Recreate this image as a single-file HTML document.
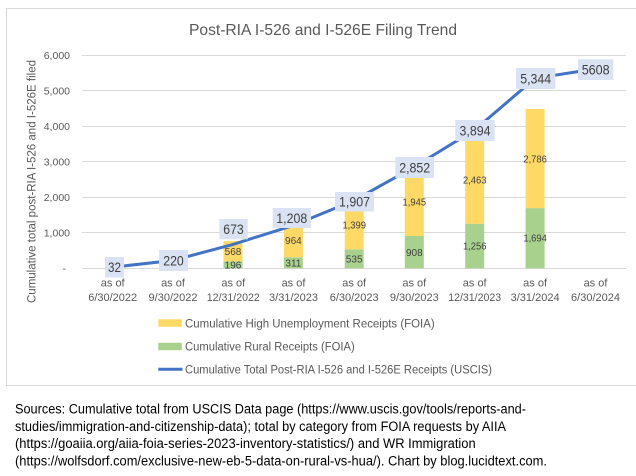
<!DOCTYPE html>
<html><head><meta charset="utf-8"><style>
html,body{margin:0;padding:0;background:#fff;}
svg{display:block;}
text{font-family:"Liberation Sans",Arial,sans-serif;}
</style></head><body>
<svg width="636" height="476" viewBox="0 0 636 476" xmlns="http://www.w3.org/2000/svg">
<rect x="0" y="0" width="636" height="476" fill="#fff"/>
<!-- chart border -->
<path d="M640 8.5 H6.5 V385.5 H640" fill="none" stroke="#d9d9d9" stroke-width="1"/>
<!-- title -->
<text x="323" y="35" font-size="16" fill="#595959" text-anchor="middle" textLength="268" lengthAdjust="spacingAndGlyphs">Post-RIA I-526 and I-526E Filing Trend</text>
<!-- gridlines -->
<g stroke="#d9d9d9" stroke-width="1">
<line x1="82" x2="626" y1="55.5" y2="55.5"/>
<line x1="82" x2="626" y1="90.5" y2="90.5"/>
<line x1="82" x2="626" y1="126.5" y2="126.5"/>
<line x1="82" x2="626" y1="161.5" y2="161.5"/>
<line x1="82" x2="626" y1="197.5" y2="197.5"/>
<line x1="82" x2="626" y1="232.5" y2="232.5"/>
<line x1="82" x2="626" y1="268.5" y2="268.5"/>
</g>
<!-- y tick labels -->
<g font-size="10.5" fill="#595959" text-anchor="end">
<text x="70" y="59">6,000</text>
<text x="70" y="94.5">5,000</text>
<text x="70" y="130">4,000</text>
<text x="70" y="165.5">3,000</text>
<text x="70" y="201">2,000</text>
<text x="70" y="236.5">1,000</text>
<text x="66" y="272">-</text>
</g>
<!-- y axis title -->
<text transform="translate(35.5,181.5) rotate(-90)" font-size="11.5" fill="#595959" text-anchor="middle" textLength="243" lengthAdjust="spacingAndGlyphs">Cumulative total post-RIA I-526 and I-526E filed</text>
<!-- bars -->
<g>
<rect x="223.5" y="261.3" width="19" height="7" fill="#A9D18E"/>
<rect x="223.5" y="241.1" width="19" height="20.2" fill="#FFD966"/>
<rect x="283.9" y="257.2" width="19" height="11.1" fill="#A9D18E"/>
<rect x="283.9" y="223" width="19" height="34.2" fill="#FFD966"/>
<rect x="344.7" y="249.3" width="19" height="19" fill="#A9D18E"/>
<rect x="344.7" y="199.6" width="19" height="49.7" fill="#FFD966"/>
<rect x="404.8" y="236" width="19" height="32.3" fill="#A9D18E"/>
<rect x="404.8" y="166.9" width="19" height="69.1" fill="#FFD966"/>
<rect x="465.2" y="223.7" width="19" height="44.6" fill="#A9D18E"/>
<rect x="465.2" y="136.1" width="19" height="87.6" fill="#FFD966"/>
<rect x="525.6" y="208.1" width="19" height="60.2" fill="#A9D18E"/>
<rect x="525.6" y="109" width="19" height="99.1" fill="#FFD966"/>
</g>
<!-- bar labels -->
<g font-size="10" fill="#404040" text-anchor="middle">
<text x="233" y="268.5">196</text>
<text x="233" y="255">568</text>
<text x="293.4" y="266.5">311</text>
<text x="293.4" y="244">964</text>
<text x="354.2" y="262.5">535</text>
<text x="354.2" y="228.5" textLength="23.5" lengthAdjust="spacingAndGlyphs">1,399</text>
<text x="414.3" y="255.8">908</text>
<text x="414.3" y="205.5" textLength="23.5" lengthAdjust="spacingAndGlyphs">1,945</text>
<text x="474.7" y="249.5" textLength="23.5" lengthAdjust="spacingAndGlyphs">1,256</text>
<text x="474.7" y="183.5" textLength="23.5" lengthAdjust="spacingAndGlyphs">2,463</text>
<text x="535.1" y="241.7" textLength="23.5" lengthAdjust="spacingAndGlyphs">1,694</text>
<text x="535.1" y="162.5" textLength="23.5" lengthAdjust="spacingAndGlyphs">2,786</text>
</g>
<!-- line -->
<polyline fill="none" stroke="#4472C4" stroke-width="3" stroke-linejoin="round" stroke-linecap="round"
points="112.2,267.2 172.6,260.5 233,244.4 293.4,225.4 353.9,200.5 414.3,166.9 474.7,129.9 535.1,78.3 595.5,68.9"/>
<!-- data label boxes -->
<g fill="#DAE3F3">
<rect x="105" y="257" width="19" height="20.5"/>
<rect x="159" y="250" width="29" height="21"/>
<rect x="219.3" y="219" width="28.4" height="20.3"/>
<rect x="272.7" y="208" width="38.3" height="20"/>
<rect x="335" y="192" width="39" height="19.5"/>
<rect x="395.3" y="157" width="38.7" height="21"/>
<rect x="455.3" y="120" width="39.4" height="21"/>
<rect x="516" y="68" width="39.3" height="21"/>
<rect x="578" y="59.3" width="35.3" height="20.7"/>
</g>
<g font-size="13.5" fill="#404040" text-anchor="middle">
<text x="114.5" y="272" textLength="13" lengthAdjust="spacingAndGlyphs">32</text>
<text x="173.5" y="265.5" textLength="20.5" lengthAdjust="spacingAndGlyphs">220</text>
<text x="233.5" y="234" textLength="20.5" lengthAdjust="spacingAndGlyphs">673</text>
<text x="291.8" y="223" textLength="31" lengthAdjust="spacingAndGlyphs">1,208</text>
<text x="354.5" y="206.5" textLength="31" lengthAdjust="spacingAndGlyphs">1,907</text>
<text x="414.7" y="172.5" textLength="31" lengthAdjust="spacingAndGlyphs">2,852</text>
<text x="475" y="135.5" textLength="31" lengthAdjust="spacingAndGlyphs">3,894</text>
<text x="535.7" y="83.5" textLength="31" lengthAdjust="spacingAndGlyphs">5,344</text>
<text x="595.7" y="74.5" textLength="28" lengthAdjust="spacingAndGlyphs">5608</text>
</g>
<!-- x labels -->
<g font-size="11" fill="#595959" text-anchor="middle">
<text x="112.7" y="286.7">as of</text><text x="112.7" y="301">6/30/2022</text>
<text x="173" y="286.7">as of</text><text x="173" y="301">9/30/2022</text>
<text x="233.3" y="286.7">as of</text><text x="233.3" y="301" textLength="53" lengthAdjust="spacingAndGlyphs">12/31/2022</text>
<text x="293.5" y="286.7">as of</text><text x="293.5" y="301">3/31/2023</text>
<text x="354.2" y="286.7">as of</text><text x="354.2" y="301">6/30/2023</text>
<text x="414.3" y="286.7">as of</text><text x="414.3" y="301">9/30/2023</text>
<text x="474.7" y="286.7">as of</text><text x="474.7" y="301" textLength="53" lengthAdjust="spacingAndGlyphs">12/31/2023</text>
<text x="535.1" y="286.7">as of</text><text x="535.1" y="301">3/31/2024</text>
<text x="595.5" y="286.7">as of</text><text x="595.5" y="301">6/30/2024</text>
</g>
<!-- legend -->
<rect x="158.3" y="319.3" width="23.5" height="7.5" fill="#FFD966"/>
<rect x="158.3" y="342.7" width="23.5" height="7.5" fill="#A9D18E"/>
<line x1="158.3" x2="182.5" y1="369.3" y2="369.3" stroke="#4472C4" stroke-width="3"/>
<g font-size="11.5" fill="#595959">
<text x="185" y="327.3" textLength="249.7" lengthAdjust="spacingAndGlyphs">Cumulative High Unemployment Receipts (FOIA)</text>
<text x="185" y="350.5" textLength="169.7" lengthAdjust="spacingAndGlyphs">Cumulative Rural Receipts (FOIA)</text>
<text x="185" y="373.3" textLength="307" lengthAdjust="spacingAndGlyphs">Cumulative Total Post-RIA I-526 and I-526E Receipts (USCIS)</text>
</g>
<!-- sources -->
<g font-size="13.5" fill="#000">
<text x="15" y="413.5" textLength="511" lengthAdjust="spacingAndGlyphs">Sources: Cumulative total from USCIS Data page (https://www.uscis.gov/tools/reports-and-</text>
<text x="15" y="430.8" textLength="491" lengthAdjust="spacingAndGlyphs">studies/immigration-and-citizenship-data); total by category from FOIA requests by AIIA</text>
<text x="15" y="448.1" textLength="460.7" lengthAdjust="spacingAndGlyphs">(https://goaiia.org/aiia-foia-series-2023-inventory-statistics/) and WR Immigration</text>
<text x="15" y="465.4" textLength="532" lengthAdjust="spacingAndGlyphs">(https://wolfsdorf.com/exclusive-new-eb-5-data-on-rural-vs-hua/). Chart by blog.lucidtext.com.</text>
</g>
</svg>
</body></html>
